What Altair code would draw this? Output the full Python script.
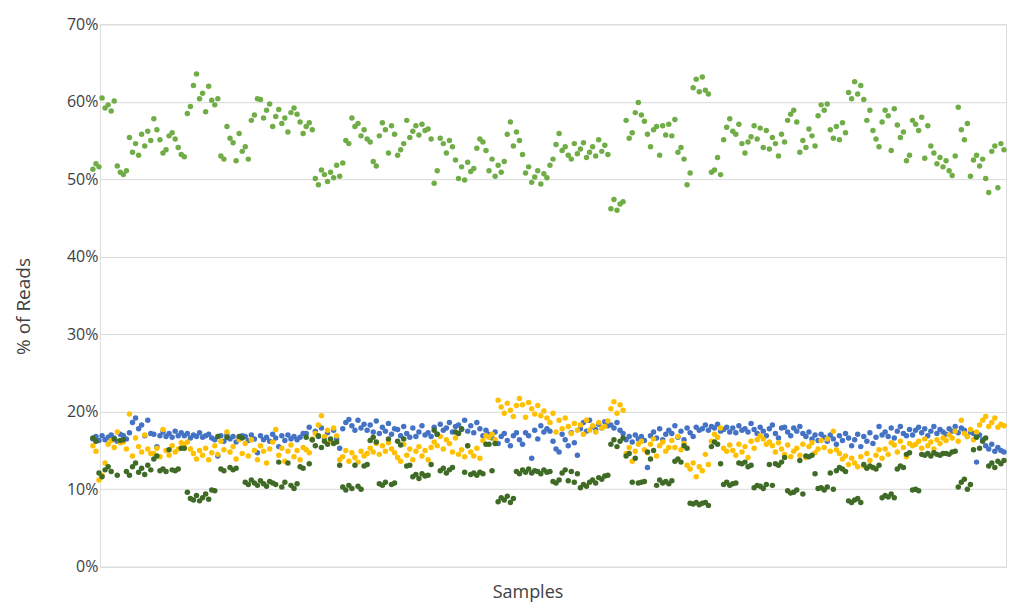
import altair as alt
import pandas as pd

# % of reads per sample, four series
green = [
    51.3, 52.0, 51.6, 60.5, 59.2, 59.6, 58.8, 60.1, 51.7, 50.9,
    50.6, 51.1, 55.4, 53.5, 54.6, 53.1, 55.8, 54.3, 56.2, 55.0,
    57.8, 56.4, 55.1, 53.4, 53.8, 55.6, 56.0, 55.2, 54.1, 53.2,
    52.9, 58.5, 59.4, 62.1, 63.6, 60.4, 61.1, 58.7, 62.0, 60.2,
    59.6, 60.4, 53.0, 52.6, 56.8, 55.3, 54.7, 52.4, 55.9, 53.6,
    54.2, 52.6, 57.6, 58.3, 60.4, 60.3, 57.9, 58.9, 59.7, 56.8,
    58.1, 59.0, 57.2, 57.9, 56.1, 58.6, 59.2, 58.4, 57.4, 55.9,
    56.8, 57.3, 56.4, 50.1, 49.3, 51.2, 50.6, 49.7, 50.9, 50.2,
    51.8, 50.4, 52.1, 55.0, 54.6, 57.9, 56.8, 57.2, 55.6, 56.4,
    55.2, 54.8, 52.3, 51.7, 55.6, 57.3, 56.4, 53.4, 56.9, 55.8,
    53.1, 53.8, 54.6, 57.6, 55.4, 56.2, 56.9, 55.7, 57.1, 56.3,
    56.5, 55.2, 49.5, 51.1, 55.3, 54.6, 53.4, 55.0, 54.2, 52.5,
    50.1, 51.6, 49.9, 52.2, 51.0, 51.4, 54.0, 55.2, 54.8, 53.7,
    51.1, 52.6, 50.4, 51.8, 50.9, 52.3, 55.8, 57.4, 54.3, 56.1,
    55.0, 53.2, 50.8, 51.6, 49.6, 50.3, 51.1, 49.4, 50.7, 50.2,
    51.8, 52.6, 54.5, 55.9, 53.7, 54.2, 53.1, 52.6, 54.6, 53.3,
    53.9, 54.7, 52.8, 53.5, 54.2, 53.0, 55.1, 53.6, 54.4, 53.2,
    46.2, 47.4, 46.0, 46.8, 47.1, 57.6, 55.3, 56.0, 58.6, 59.9,
    58.3, 57.5, 55.8, 54.2, 56.4, 56.8, 53.1, 56.9, 55.7, 57.1,
    55.6, 57.7, 53.5, 54.1, 52.6, 49.3, 50.8, 61.8, 62.9, 61.3,
    63.2, 61.5, 61.0, 50.9, 51.2, 52.8, 50.6, 55.1, 56.7, 57.8,
    56.2, 55.8, 57.1, 54.6, 53.4, 54.8, 55.5, 56.9, 55.2, 56.6,
    54.1, 56.3, 53.9, 55.4, 54.6, 53.0, 55.8, 54.8, 57.6, 58.4,
    58.9, 57.4, 53.5, 55.0, 54.1, 56.5, 55.6, 54.3, 58.2, 59.6,
    58.9, 59.7, 56.4, 55.3, 56.8, 55.1, 57.3, 56.0, 61.2, 60.4,
    62.6, 61.0, 62.1, 60.3, 57.6, 58.9, 56.3, 55.2, 54.2, 57.4,
    58.9, 58.2, 53.7, 59.1, 57.0, 55.4, 56.1, 52.4, 53.1, 57.6,
    57.1, 56.3, 58.0, 52.7, 56.9, 54.3, 53.4, 52.0, 52.8, 51.6,
    52.4, 51.1, 50.5, 53.0, 59.3, 56.4, 55.1, 57.2, 50.4, 52.5,
    53.1, 51.7, 52.6, 50.1, 48.3, 53.6, 54.3, 48.9, 54.6, 53.8,
]

blue = [
    16.5, 16.8, 16.3, 16.9, 16.4, 16.7, 17.0, 16.6, 16.2, 17.1,
    16.9, 16.5, 17.3, 18.6, 19.2, 17.8, 18.3, 16.9, 18.9, 17.2,
    17.1, 15.5, 16.9, 17.4, 16.8, 17.2, 16.7, 17.5, 16.9, 17.3,
    16.9, 17.2, 16.6, 17.0, 16.8, 17.3, 16.7, 16.9, 17.1, 16.6,
    16.4, 14.3, 16.9, 16.2, 17.0, 16.5, 16.8, 16.1, 16.6, 16.9,
    16.8, 16.3, 17.0, 16.5, 14.7, 16.9, 16.4, 16.7, 16.2, 17.1,
    16.6, 15.5, 16.9, 16.3, 17.0, 16.5, 16.8, 16.4, 16.7, 17.2,
    17.2, 18.0, 16.4, 17.5, 16.8, 17.9, 16.6, 17.3, 16.2, 17.6,
    16.5, 15.3, 17.8, 18.6, 19.0, 18.2, 17.6, 18.9, 17.9, 18.4,
    17.6, 18.3, 17.4, 18.8, 17.2, 18.0, 17.5, 18.5, 17.1, 17.8,
    17.7, 16.9, 18.1, 17.2, 16.7, 17.9, 16.8, 17.4, 18.2, 17.0,
    17.3, 16.8, 18.0, 17.1, 18.4, 17.6, 17.9, 18.6, 17.4, 18.1,
    18.3, 17.7, 18.9, 17.5, 18.2, 17.3, 18.6, 17.8, 16.9, 17.6,
    17.1, 16.6, 17.4, 15.9, 16.8, 17.2, 16.3, 15.6, 16.9, 17.3,
    16.4, 15.8, 17.3, 16.9, 14.0, 17.6, 16.5, 18.2, 17.4, 17.8,
    17.5, 16.2, 15.2, 14.8, 17.1, 16.4, 15.6, 17.3, 16.0, 14.4,
    17.8, 18.6, 17.5, 18.9, 18.1, 17.7, 18.4, 17.9, 18.7, 18.2,
    18.3, 17.9, 18.6, 17.6, 17.2, 16.4, 16.8, 16.1, 17.0, 16.5,
    16.8, 16.3, 12.8, 16.9, 17.4, 16.6, 17.8, 16.4, 17.1, 17.6,
    17.2, 18.2, 16.7, 17.5, 16.4, 17.9, 17.3, 16.8, 18.0, 17.6,
    17.8, 18.3, 17.6, 18.1, 17.9, 18.4, 17.5, 17.7, 18.0, 17.4,
    17.9, 17.3, 18.2, 17.6, 17.8, 17.4, 18.5, 17.7, 17.2, 18.0,
    17.5, 16.9, 17.8, 18.3, 17.2, 16.6, 17.9, 18.0, 17.4, 16.9,
    17.9, 17.5, 18.1, 17.2, 16.8, 17.4, 16.5, 17.0, 16.3, 17.1,
    16.7, 16.2, 17.0, 16.5, 15.8, 16.9, 16.3, 17.2, 16.6, 15.6,
    16.4, 17.1, 15.5, 16.8, 16.2, 17.3, 15.9, 16.7, 18.1, 17.0,
    17.4, 16.8, 17.9, 16.6, 17.5, 18.1, 17.2, 16.9, 17.7, 17.0,
    17.6, 18.0, 17.3, 17.8, 16.9, 17.5, 18.1, 17.2, 17.7, 17.4,
    17.1, 17.8, 17.5, 18.1, 17.3, 17.9, 17.6, 16.8, 17.4, 17.2,
    13.5, 17.0, 16.4, 15.6, 15.2, 15.8, 14.9, 15.4, 15.0, 14.8,
]

gold = [
    15.6, 14.9, 11.2, 11.8, 13.4, 15.8, 16.3, 15.4, 17.4, 16.0,
    16.1, 15.2, 19.7, 14.3, 16.6, 15.5, 14.8, 17.0, 15.2, 14.6,
    14.6, 15.3, 14.2, 17.7, 15.0, 14.4, 15.6, 14.8, 15.2, 16.0,
    15.8, 16.1, 15.2, 14.6, 13.9, 15.0, 14.4, 15.3, 13.8, 14.7,
    15.6, 14.5, 16.2, 15.1, 17.4, 14.8, 15.5, 13.9, 16.4, 14.6,
    15.9, 14.3, 16.4, 15.0, 13.8, 15.6, 14.9, 13.4, 15.2, 16.1,
    17.7, 14.4, 15.3, 13.6, 14.9, 15.7, 14.2, 15.0, 13.8, 15.4,
    15.1, 14.7, 16.5, 17.2, 18.3, 19.5, 16.8, 17.6, 16.2, 17.9,
    16.9, 13.8, 14.2, 15.0, 13.6, 14.7, 14.1, 13.5, 14.9, 14.3,
    14.6, 15.3, 14.8, 15.9, 14.5, 15.6, 14.9, 16.0, 15.2, 14.7,
    14.1, 13.6, 15.8, 14.4, 15.2, 13.8, 14.9, 15.5, 14.3, 15.0,
    13.8, 15.4, 16.1, 15.6, 16.8, 15.2, 16.4, 15.9, 14.8, 16.6,
    14.5, 15.1, 14.2, 15.6, 14.8, 14.3, 15.3, 14.0, 16.3, 16.9,
    16.7, 17.1, 16.4, 21.5, 20.6, 19.8, 21.1, 20.2, 19.4, 20.8,
    21.7, 20.9, 19.3, 21.2, 20.4, 19.7, 20.8, 19.5, 20.1, 19.2,
    18.6, 19.8, 17.4, 18.9, 17.8, 19.2, 18.1, 17.2, 18.5, 17.6,
    18.3, 17.1, 18.9, 17.6, 18.2, 17.4, 18.6, 17.9, 18.1, 18.8,
    20.4, 21.3, 19.8, 20.9, 20.2, 14.6, 15.4, 13.6, 14.9, 15.8,
    16.2, 15.1, 14.7, 15.8, 16.5, 14.3, 15.6, 16.1, 14.9, 15.4,
    16.3, 15.4, 16.8, 15.1, 15.9, 13.1, 12.6, 13.4, 11.6, 12.9,
    12.4, 14.5, 13.2, 16.2, 17.1, 16.7, 17.9, 15.3, 14.9, 15.7,
    15.0, 14.4, 15.8, 14.8, 15.5, 14.1, 16.2, 15.3, 16.4, 16.9,
    16.5, 15.8, 16.1, 15.6, 14.8, 16.0, 15.2, 14.5, 15.7, 14.2,
    14.9, 15.3, 14.4, 15.8, 14.1, 15.5, 16.0, 14.7, 15.2, 16.3,
    15.4, 16.5, 14.9, 17.5, 15.1, 14.6, 13.9, 14.3, 13.2, 14.0,
    13.4, 12.9, 14.2, 13.0, 14.6, 13.7, 12.8, 14.4, 15.1, 14.0,
    15.2, 14.5, 16.0, 15.7, 14.8, 16.2, 15.4, 14.2, 15.9, 15.6,
    15.8, 16.2, 15.3, 16.5, 15.6, 16.1, 15.2, 16.4, 15.9, 16.6,
    16.3, 17.0, 16.6, 17.5, 16.2, 18.9, 17.2, 16.8, 17.7, 16.4,
    17.4, 18.3, 18.9, 19.4, 18.1, 18.6, 19.2, 18.0, 18.4, 18.2,
]

dark_green = [
    16.6, 16.2, 12.1, 11.6, 12.5, 12.9, 12.3, 16.5, 11.8, 16.3,
    16.4, 12.3, 11.8, 12.9, 13.4, 12.2, 12.7, 11.9, 13.1, 12.5,
    13.9, 14.3, 12.4, 12.6, 12.3, 15.1, 12.5, 12.4, 12.6, 15.3,
    15.3, 9.6, 8.8, 8.6, 9.2, 8.5, 8.9, 9.4, 8.7, 9.9,
    9.8, 16.8, 12.6, 12.4, 16.7, 12.8, 12.5, 12.7, 16.8, 16.6,
    10.9, 10.6, 11.2, 10.8, 10.5, 11.1, 10.7, 10.4, 11.0, 10.8,
    10.6, 13.5, 10.3, 10.9, 13.4, 10.5, 10.1, 10.7, 12.9, 12.7,
    16.7, 13.3, 16.4, 15.6, 16.9, 15.4, 16.2, 15.8, 16.5, 15.9,
    16.1, 13.1, 10.3, 9.9, 10.5, 10.1, 13.1, 10.4, 10.0, 13.0,
    13.2, 16.3, 16.7, 16.1, 10.7, 10.5, 10.9, 16.5, 10.6, 10.8,
    16.2, 15.7, 16.5, 13.0, 13.1, 11.6, 11.9, 11.4, 12.0, 11.7,
    11.8, 13.2, 17.6, 17.1, 12.4, 12.7, 12.1, 12.5, 12.8, 17.4,
    17.2, 17.8, 12.2, 15.6, 11.9, 12.1, 11.8, 12.2, 12.0, 15.8,
    15.8, 12.4, 15.9, 8.4, 8.9, 8.6, 9.1, 8.3, 8.8, 12.3,
    12.0, 12.5, 12.2, 12.6, 12.1, 12.4, 12.3, 12.0, 12.5, 12.2,
    12.3, 11.0, 10.8, 11.2, 12.1, 12.5, 11.1, 12.3, 10.9, 12.0,
    10.2, 10.6, 10.4, 10.9, 11.2, 10.8, 11.5, 11.3, 11.7, 11.8,
    15.8, 16.4, 15.5, 16.2, 16.6, 14.3, 14.6, 10.9, 14.0, 10.8,
    10.9, 11.0, 14.8, 13.9, 15.0, 10.5, 11.2, 10.8, 11.0, 10.7,
    11.1, 13.6, 13.9, 13.5, 15.6, 15.3, 8.2, 8.1, 8.3, 8.0,
    8.2, 8.3, 7.9, 15.5, 16.1, 15.8, 13.3, 10.6, 10.9, 10.5,
    10.7, 10.8, 13.4, 13.3, 13.5, 12.9, 13.1, 10.2, 10.5, 10.4,
    10.1, 10.6, 13.2, 10.5, 13.3, 13.1, 13.5, 14.1, 9.8, 9.5,
    9.6, 9.9, 13.7, 9.4, 14.3, 14.2, 14.4, 12.0, 10.1, 10.2,
    9.9, 10.3, 12.1, 10.0, 12.4, 12.8, 12.6, 12.3, 8.5, 8.3,
    8.6, 8.8, 8.3, 13.2, 12.7, 13.0, 12.8, 12.6, 13.1, 8.9,
    9.2, 9.0, 9.4, 8.9, 12.6, 13.0, 12.8, 14.5, 14.7, 9.9,
    10.0, 9.8, 14.5, 14.4, 14.6, 14.3, 14.7, 14.5, 14.4, 14.6,
    14.6, 14.5, 14.8, 14.9, 10.3, 10.9, 11.3, 10.0, 10.6, 15.1,
    16.7, 15.3, 16.2, 16.6, 13.0, 13.4, 12.8, 13.6, 13.3, 13.7,
]

series_names = ["Series 1", "Series 2", "Series 3", "Series 4"]
series_colors = ["#70AD47", "#4472C4", "#FFC000", "#3F6B26"]
y_ticks = [0, 0.1, 0.2, 0.3, 0.4, 0.5, 0.6, 0.7]

rows = []
for k, (name, vals) in enumerate(zip(series_names, [green, blue, gold, dark_green])):
    for i, v in enumerate(vals):
        rows.append({"sample": i, "value": v / 100.0, "series": name, "order": k})
df = pd.DataFrame(rows)

FONT = "Open Sans"
W, H = 907, 543

points = alt.Chart(df).mark_circle(size=30, opacity=1).encode(
    x=alt.X("sample:Q",
            scale=alt.Scale(domain=[2.3, 299.67], nice=False, zero=False),
            axis=alt.Axis(title="Samples", labels=False, ticks=False, domain=False, grid=False,
                          titleX=428, titleY=31, titleBaseline="alphabetic", titleAlign="center",
                          titleFont=FONT, titleFontSize=18, titleFontWeight="normal",
                          titleColor="#404040")),
    y=alt.Y("value:Q",
            scale=alt.Scale(domain=[0, 0.7], nice=False),
            axis=alt.Axis(title="% of Reads", values=y_ticks, format=".0%", domain=False, ticks=False,
                          grid=True, gridColor="#D9D9D9", gridWidth=1,
                          labelFont=FONT, labelFontSize=16, labelColor="#404040", labelPadding=2,
                          titleX=-76, titleY=282, titleAngle=270, titleAlign="center",
                          titleBaseline="middle", titleFont=FONT, titleFontSize=19,
                          titleFontWeight="normal", titleColor="#404040")),
    color=alt.Color("series:N", scale=alt.Scale(domain=series_names, range=series_colors), legend=None),
    order=alt.Order("order:Q"),
)

border = alt.Chart(df).mark_rule(color="#D9D9D9", strokeWidth=1).encode(
    x=alt.value(918), y=alt.value(-9), y2=alt.value(556)
)

chart = alt.layer(points, border).properties(
    width=W, height=H,
    autosize=alt.AutoSizeParams(type="none"),
    padding={"left": 92, "top": 16, "right": 8, "bottom": 37},
).configure_view(stroke=None).configure(background="white")

chart.save("out.html", embed_options={"renderer": "svg", "actions": False})
